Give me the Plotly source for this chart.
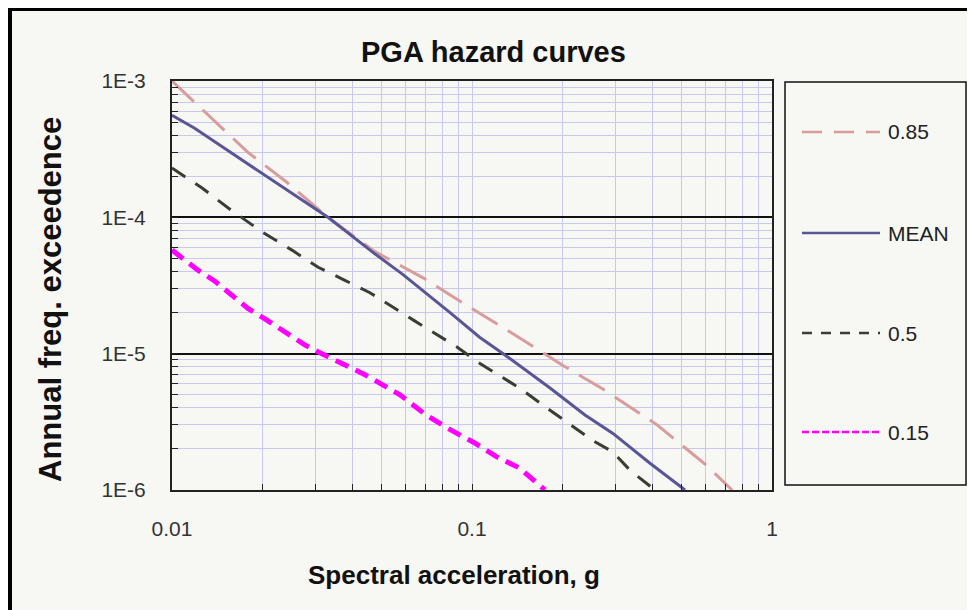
import plotly.graph_objects as go

# hazard curves (spectral acceleration g, annual freq. of exceedance)
x_085 = [0.01, 0.0129, 0.0179, 0.0242, 0.0331, 0.0475, 0.0605, 0.0687, 0.0948, 0.137, 0.201, 0.273, 0.414, 0.505, 0.598, 0.736]
y_085 = [1.0e-3, 5.9e-4, 3.0e-4, 1.8e-4, 1.0e-4, 5.6e-5, 4.2e-5, 3.6e-5, 2.3e-5, 1.4e-5, 8.2e-6, 5.5e-6, 3.0e-6, 2.1e-6, 1.55e-6, 1.0e-6]

x_mean = [0.01, 0.0119, 0.0158, 0.0204, 0.0263, 0.0331, 0.0464, 0.0589, 0.0845, 0.106, 0.127, 0.182, 0.238, 0.295, 0.392, 0.513]
y_mean = [5.6e-4, 4.5e-4, 2.96e-4, 2.04e-4, 1.4e-4, 1.0e-4, 5.6e-5, 3.8e-5, 2.0e-5, 1.32e-5, 1.0e-5, 5.6e-6, 3.55e-6, 2.6e-6, 1.57e-6, 1.0e-6]

x_050 = [0.01, 0.0126, 0.0154, 0.02, 0.0251, 0.0307, 0.0377, 0.0457, 0.0636, 0.0891, 0.106, 0.144, 0.182, 0.253, 0.295, 0.336, 0.407]
y_050 = [2.3e-4, 1.64e-4, 1.17e-4, 7.8e-5, 5.75e-5, 4.3e-5, 3.45e-5, 2.8e-5, 1.77e-5, 1.12e-5, 8.5e-6, 5.6e-6, 3.85e-6, 2.3e-6, 1.9e-6, 1.4e-6, 1.0e-6]

x_015 = [0.01, 0.0122, 0.0139, 0.0179, 0.0204, 0.0238, 0.0277, 0.0316, 0.0369, 0.044, 0.0575, 0.0697, 0.0826, 0.1007, 0.121, 0.144, 0.175]
y_015 = [5.75e-5, 4.1e-5, 3.4e-5, 2.15e-5, 1.8e-5, 1.45e-5, 1.16e-5, 1.0e-5, 8.5e-6, 7.0e-6, 5.0e-6, 3.6e-6, 2.85e-6, 2.25e-6, 1.75e-6, 1.45e-6, 1.0e-6]

series_names = ["0.85", "MEAN", "0.5", "0.15"]

x_tickvals = [0.01, 0.1, 1]
x_ticktext = ["0.01", "0.1", "1"]
y_tickvals = [1e-6, 1e-5, 1e-4, 1e-3]
y_ticktext = ["1E-6", "1E-5", "1E-4", "1E-3"]

# the page body adds an 8px margin, so the figure is drawn 8px smaller
# and every target position is given in window pixels minus that offset
OFF = 8
W, H = 975 - OFF, 610 - OFF
L, R, T, B = 172 - OFF, 772 - OFF, 81 - OFF, 490 - OFF  # plot area

FONT = "Liberation Sans, Arial, sans-serif"
BG = "#f7f7f4"
GRID = "#c9c9f0"


def px_x(px):
    # window pixel -> paper x
    return (px - OFF - L) / (R - L)


def px_y(py):
    # window pixel -> paper y
    return (B - (py - OFF)) / (B - T)


styles = [
    dict(color="#d89c9c", width=3, dash="30px,12px"),
    dict(color="#5a5696", width=3, dash="solid"),
    dict(color="#3a3e32", width=3, dash="16px,12px"),
    dict(color="#ff00ff", width=5, dash="14px,8px"),
]
legend_dash = ["20px,12px", "solid", "10px,9px", "7px,3px"]

fig = go.Figure()

for name, xs, ys, st in zip(series_names,
                            [x_085, x_mean, x_050, x_015],
                            [y_085, y_mean, y_050, y_015],
                            styles):
    fig.add_trace(go.Scatter(x=xs, y=ys, mode="lines", name=name,
                             line=st, showlegend=False))

shapes = [
    # outer frame of the chart image
    dict(type="rect", xref="paper", yref="paper",
         x0=px_x(10), x1=px_x(1000), y0=px_y(640), y1=px_y(9),
         line=dict(color="black", width=4), layer="above"),
    # legend box
    dict(type="rect", xref="paper", yref="paper",
         x0=px_x(785), x1=px_x(966), y0=px_y(485), y1=px_y(82),
         line=dict(color="#111", width=1.5), fillcolor=BG),
]

annotations = []
legend_rows = [132, 233, 333, 432]
for name, st, dash, row in zip(series_names, styles, legend_dash, legend_rows):
    shapes.append(dict(type="line", xref="paper", yref="paper",
                       x0=px_x(802), x1=px_x(880), y0=px_y(row), y1=px_y(row),
                       line=dict(color=st["color"], width=2.5, dash=dash)))
    annotations.append(dict(text=name, xref="paper", yref="paper",
                            x=px_x(886), y=px_y(row), xanchor="left", yanchor="middle",
                            showarrow=False, font=dict(family=FONT, size=21, color="#222")))

annotations += [
    dict(text="<b>PGA hazard curves</b>", xref="paper", yref="paper",
         x=px_x(493), y=px_y(52), xanchor="center", yanchor="middle",
         showarrow=False, font=dict(family=FONT, size=29, color="#111")),
    dict(text="<b>Spectral acceleration, g</b>", xref="paper", yref="paper",
         x=px_x(454), y=px_y(575), xanchor="center", yanchor="middle",
         showarrow=False, font=dict(family=FONT, size=26, color="#111")),
    dict(text="<b>Annual freq. exceedence</b>", xref="paper", yref="paper",
         x=px_x(50), y=px_y(300), xanchor="center", yanchor="middle", textangle=-90,
         showarrow=False, font=dict(family=FONT, size=31, color="#111")),
]

fig.update_xaxes(type="log", range=[-2, 0],
                 tickvals=x_tickvals, ticktext=x_ticktext,
                 ticks="inside", ticklen=6, tickcolor="#222",
                 ticklabelstandoff=19,
                 tickfont=dict(family=FONT, size=21, color="#333"),
                 showgrid=True, gridcolor=GRID, gridwidth=1,
                 minor=dict(dtick="D1", showgrid=True, gridcolor=GRID, gridwidth=1,
                            ticks="inside", ticklen=6, tickcolor="#222"),
                 showline=True, linecolor="#222", linewidth=2, mirror=True,
                 zeroline=False)

fig.update_yaxes(type="log", range=[-6, -3],
                 tickvals=y_tickvals, ticktext=y_ticktext,
                 ticks="inside", ticklen=6, tickcolor="#222",
                 ticklabelstandoff=20,
                 tickfont=dict(family=FONT, size=21, color="#333"),
                 showgrid=True, gridcolor="#111", gridwidth=1.5,
                 minor=dict(dtick="D1", showgrid=True, gridcolor=GRID, gridwidth=1,
                            ticks="inside", ticklen=6, tickcolor="#222"),
                 showline=True, linecolor="#222", linewidth=2, mirror=True,
                 zeroline=False)

fig.update_layout(width=W, height=H,
                  margin=dict(l=L, r=W - R, t=T, b=H - B, autoexpand=False),
                  paper_bgcolor=BG, plot_bgcolor=BG,
                  showlegend=False,
                  shapes=shapes, annotations=annotations)

fig.write_html("out.html")
